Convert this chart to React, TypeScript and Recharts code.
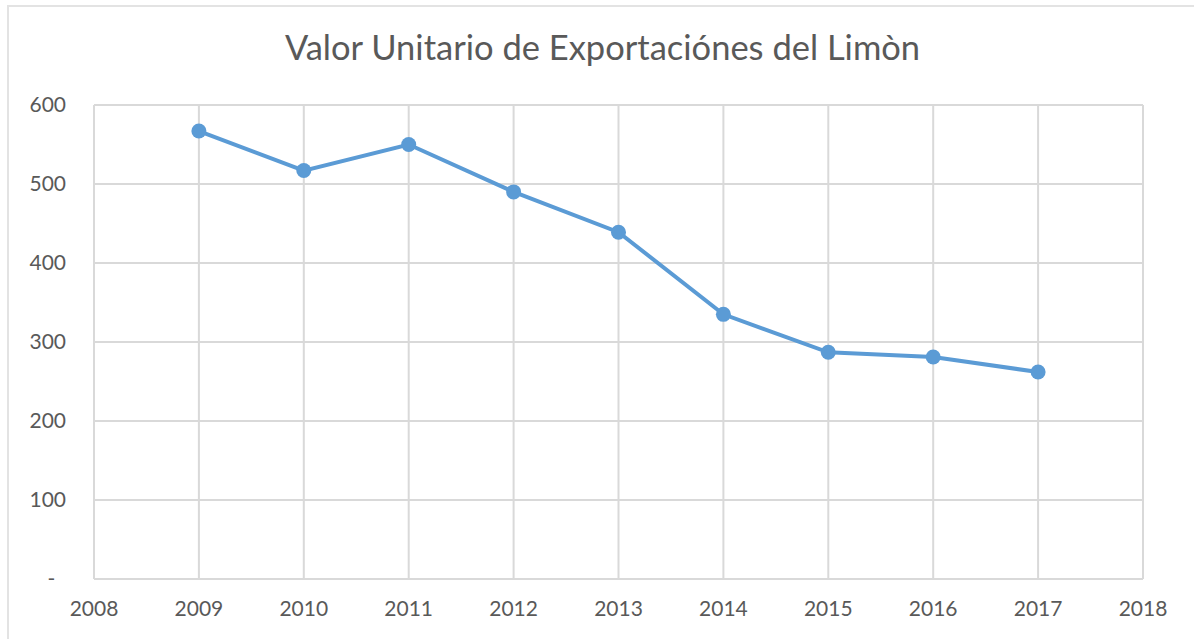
import { LineChart, Line, XAxis, YAxis, CartesianGrid } from "recharts";

const years = [2009, 2010, 2011, 2012, 2013, 2014, 2015, 2016, 2017];
const valorUnitario = [567, 517, 550, 490, 439, 335, 287, 281, 262];
const xTicks = [2008, 2009, 2010, 2011, 2012, 2013, 2014, 2015, 2016, 2017, 2018];
const yTicks = [0, 100, 200, 300, 400, 500, 600];

const data = years.map((year, i) => ({ year, valor: valorUnitario[i] }));

const textColor = "#595959";
const gridColor = "#d9d9d9";
const lineColor = "#5b9bd5";

export default function App() {
  return (
    <div
      style={{
        position: "fixed", left: 0, top: 0, width: 1194, height: 639,
        background: "#fff", fontFamily: "Lato, 'Open Sans', sans-serif",
      }}
    >
      <div
        style={{
          position: "absolute", left: 7, top: 5, width: 1187, height: 634,
          borderTop: "2px solid #e3e3e3", borderLeft: "2px solid #e3e3e3",
          boxSizing: "border-box",
        }}
      />
      <div
        style={{
          position: "absolute", left: 0, top: 26, width: 1205, textAlign: "center",
          fontSize: 34.5, color: textColor, lineHeight: "42px",
        }}
      >
        Valor Unitario de Exportaciónes del Limòn
      </div>
      <div style={{ position: "absolute", left: 0, top: 0 }}>
        <LineChart width={1194} height={639} data={data} margin={{ top: 105, right: 51, bottom: 30, left: 0 }}>
          <CartesianGrid stroke={gridColor} strokeWidth={2} />
          <XAxis
            dataKey="year" type="number" domain={[2008, 2018]} ticks={xTicks} height={30}
            tick={{ fill: textColor, fontSize: 21 }} tickLine={false} tickSize={0} tickMargin={22}
            axisLine={{ stroke: gridColor, strokeWidth: 2 }} interval={0}
          />
          <YAxis
            type="number" domain={[0, 600]} ticks={yTicks} width={94}
            tick={{ fill: textColor, fontSize: 21 }} tickLine={false} tickSize={0} tickMargin={28}
            axisLine={{ stroke: gridColor, strokeWidth: 2 }} interval={0}
            tickFormatter={(v: number) => (v === 0 ? "-\u00A0\u00A0" : String(v))}
          />
          <Line
            type="linear" dataKey="valor" stroke={lineColor} strokeWidth={4}
            dot={{ r: 7.5, fill: lineColor, stroke: lineColor, strokeWidth: 0 }}
            activeDot={false} isAnimationActive={false}
          />
        </LineChart>
      </div>
    </div>
  );
}
